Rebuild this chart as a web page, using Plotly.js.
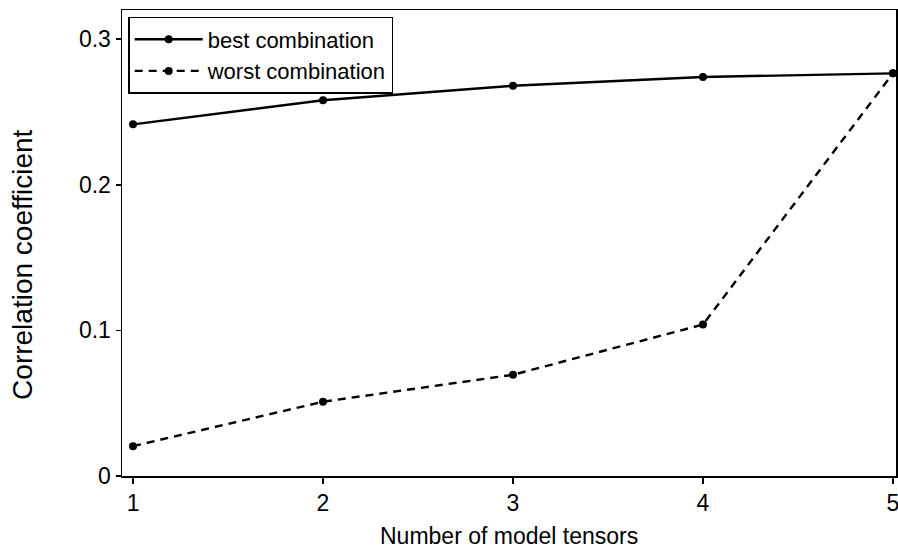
<!DOCTYPE html>
<html>
<head>
<meta charset="utf-8">
<script src="https://cdn.plot.ly/plotly-3.0.1.min.js"></script>
<style>html,body{margin:0;padding:0;background:#fff;}#chart{width:898px;height:548px;}</style>
</head>
<body>
<div id="chart"></div>
<script>
const nTensors = [1, 2, 3, 4, 5];
const bestCombination = [0.2415, 0.258, 0.268, 0.274, 0.2765];
const worstCombination = [0.0205, 0.051, 0.0695, 0.104, 0.2765];
const seriesNames = ['best combination', 'worst combination'];
const xTitle = 'Number of model tensors';
const yTitle = 'Correlation coefficient';
const yTicks = [0, 0.1, 0.2, 0.3];
const yTickText = ['0', '0.1', '0.2', '0.3'];

const family = '"Liberation Sans", Arial, Helvetica, sans-serif';
const font = {family: family, color: '#000', size: 23};
const legendFont = {family: family, color: '#000', size: 22};
const yTitleFont = {family: family, color: '#000', size: 28};

const traces = [
  {x: nTensors, y: bestCombination, name: seriesNames[0], mode: 'lines+markers',
   line: {color: '#000', width: 2.4}, marker: {color: '#000', size: 8, symbol: 'circle'}},
  {x: nTensors, y: worstCombination, name: seriesNames[1], mode: 'lines+markers',
   line: {color: '#000', width: 2.4, dash: '8px,6px'}, marker: {color: '#000', size: 8, symbol: 'circle'}}
];

const layout = {
  width: 898, height: 548,
  margin: {l: 122, r: 2, t: 10, b: 72},
  paper_bgcolor: '#fff', plot_bgcolor: '#fff',
  font: font,
  showlegend: true,
  legend: {x: 0.008, y: 0.985, xanchor: 'left', yanchor: 'top',
    bordercolor: '#000', borderwidth: 1.5, bgcolor: '#fff',
    font: legendFont, itemwidth: 68, tracegroupgap: 0},
  xaxis: {range: [0.942, 5.016], tickvals: nTensors, ticktext: nTensors.map(String),
    showgrid: false, zeroline: false, showline: true, linecolor: '#000', linewidth: 1.5,
    mirror: true, ticks: 'outside', ticklen: 6, tickwidth: 1.5, tickcolor: '#000',
    ticklabeloverflow: 'allow', tickfont: font},
  yaxis: {range: [0, 0.32], tickvals: yTicks, ticktext: yTickText,
    showgrid: false, zeroline: false, showline: true, linecolor: '#000', linewidth: 1.5,
    mirror: true, ticks: 'outside', ticklen: 5, tickwidth: 1.5, tickcolor: '#000',
    tickfont: font},
  annotations: [
    {text: xTitle, xref: 'paper', yref: 'paper', x: 0.5, y: -0.128,
     xanchor: 'center', yanchor: 'middle', showarrow: false, font: font},
    {text: yTitle, xref: 'paper', yref: 'paper', x: -0.128, y: 0.455,
     xanchor: 'center', yanchor: 'middle', textangle: -90, showarrow: false, font: yTitleFont}
  ]
};

Plotly.newPlot('chart', traces, layout, {displayModeBar: false, staticPlot: true});
</script>
</body>
</html>
